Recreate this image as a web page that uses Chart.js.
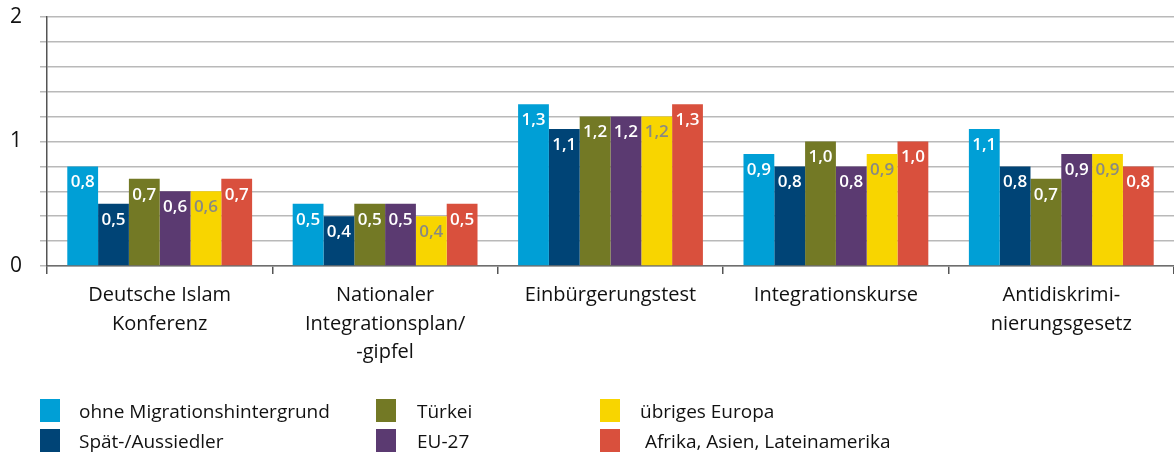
<!DOCTYPE html>
<html lang="de">
<head>
    <meta charset="UTF-8">
    <title>Bekanntheit</title>
    <script src="https://cdn.jsdelivr.net/npm/chart.js"></script>
    <style>
        body {
            margin: 0;
            background: #ffffff;
            font-family: "Open Sans", sans-serif;
            color: #111;
        }
        .wrap {
            position: relative;
            width: 1174px;
            height: 459px;
            overflow: hidden;
        }
        canvas {
            display: block;
        }
        .legend {
            position: absolute;
            left: 0;
            top: 0;
            font-size: 19px;
        }
        .legend .box {
            position: absolute;
            width: 20px;
            height: 23px;
        }
        .legend .txt {
            position: absolute;
            white-space: pre;
            line-height: 30px;
        }
    </style>
</head>
<body>
    <div class="wrap">
        <canvas id="chart" width="1174" height="459"></canvas>
        <div class="legend" id="legend"></div>
    </div>

    <script>
        const categories = [
            ['Deutsche Islam', 'Konferenz'],
            ['Nationaler', 'Integrationsplan/', '-gipfel'],
            'Einbürgerungstest',
            'Integrationskurse',
            ['Antidiskrimi-', 'nierungsgesetz']
        ];

        const seriesNames = ['ohne Migrationshintergrund', 'Spät-/Aussiedler', 'Türkei', 'EU-27', 'übriges Europa', ' Afrika, Asien, Lateinamerika'];
        const seriesColors = ['#009fd6', '#004476', '#737925', '#5b3a71', '#f8d500', '#d9503d'];
        const labelColors = ['#ffffff', '#ffffff', '#ffffff', '#ffffff', '#8a8a80', '#ffffff'];

        const ohneMigration = [0.8, 0.5, 1.3, 0.9, 1.1];
        const spaetAussiedler = [0.5, 0.4, 1.1, 0.8, 0.8];
        const tuerkei = [0.7, 0.5, 1.2, 1.0, 0.7];
        const eu27 = [0.6, 0.5, 1.2, 0.8, 0.9];
        const uebrigesEuropa = [0.6, 0.4, 1.2, 0.9, 0.9];
        const afrikaAsienLA = [0.7, 0.5, 1.3, 1.0, 0.8];

        const yTicks = [0, 1, 2];

        const seriesValues = [ohneMigration, spaetAussiedler, tuerkei, eu27, uebrigesEuropa, afrikaAsienLA];

        const fmt = v => v.toFixed(1).replace('.', ',');

        // values written at the top inside each bar
        const barLabels = {
            id: 'barLabels',
            afterDatasetsDraw(chart) {
                const ctx = chart.ctx;
                ctx.save();
                ctx.font = '600 17px "Open Sans"';
                ctx.textAlign = 'center';
                ctx.textBaseline = 'middle';
                chart.data.datasets.forEach((ds, i) => {
                    const meta = chart.getDatasetMeta(i);
                    ctx.fillStyle = labelColors[i];
                    meta.data.forEach((bar, j) => {
                        ctx.fillText(fmt(ds.data[j]), bar.x, bar.y + 16);
                    });
                });
                ctx.restore();
            }
        };

        new Chart(document.getElementById('chart'), {
            type: 'bar',
            data: {
                labels: categories,
                datasets: seriesValues.map((vals, i) => ({
                    label: seriesNames[i],
                    data: vals,
                    backgroundColor: seriesColors[i],
                    borderWidth: 0,
                    categoryPercentage: 0.82,
                    barPercentage: 1.0
                }))
            },
            options: {
                responsive: false,
                animation: false,
                layout: { padding: { top: 17, right: 0, bottom: 0, left: 0 } },
                plugins: {
                    legend: { display: false },
                    tooltip: { enabled: false }
                },
                scales: {
                    x: {
                        grid: {
                            offset: true,
                            drawOnChartArea: false,
                            drawTicks: true,
                            tickLength: 8,
                            color: '#555',
                            lineWidth: 1.5
                        },
                        border: { color: '#6e6e6e', width: 1.5 },
                        ticks: {
                            color: '#111',
                            padding: 7,
                            maxRotation: 0,
                            autoSkip: false,
                            font: { family: 'Open Sans', size: 20, lineHeight: 1.43 }
                        },
                        afterFit(scale) { scale.height = 193; }
                    },
                    y: {
                        min: 0,
                        max: 2,
                        grid: {
                            color: '#b9b9b9',
                            lineWidth: 1.5,
                            tickLength: 7
                        },
                        border: { color: '#555', width: 1.5 },
                        ticks: {
                            stepSize: 0.2,
                            autoSkip: false,
                            padding: 18,
                            color: '#111',
                            font: { family: 'Open Sans', size: 21 },
                            callback: v => {
                                const r = Math.round(v);
                                return Math.abs(v - r) < 1e-6 && yTicks.includes(r) ? String(r) : '';
                            }
                        },
                        afterFit(scale) {
                            scale.width = 47;
                            scale.paddingTop = 0;
                            scale.paddingBottom = 0;
                        }
                    }
                }
            },
            plugins: [barLabels]
        });

        // legend in three columns, two rows
        const legendPos = [
            { x: 40, y: 399, tx: 79 },
            { x: 40, y: 429, tx: 79 },
            { x: 376, y: 399, tx: 417 },
            { x: 376, y: 429, tx: 417 },
            { x: 600, y: 399, tx: 640 },
            { x: 600, y: 429, tx: 640 }
        ];
        const legend = document.getElementById('legend');
        seriesNames.forEach((name, i) => {
            const p = legendPos[i];
            const box = document.createElement('div');
            box.className = 'box';
            box.style.left = p.x + 'px';
            box.style.top = p.y + 'px';
            box.style.background = seriesColors[i];
            legend.appendChild(box);
            const txt = document.createElement('div');
            txt.className = 'txt';
            txt.style.left = p.tx + 'px';
            txt.style.top = (p.y + 11.5 - 15) + 'px';
            txt.textContent = name;
            legend.appendChild(txt);
        });
    </script>
</body>
</html>
